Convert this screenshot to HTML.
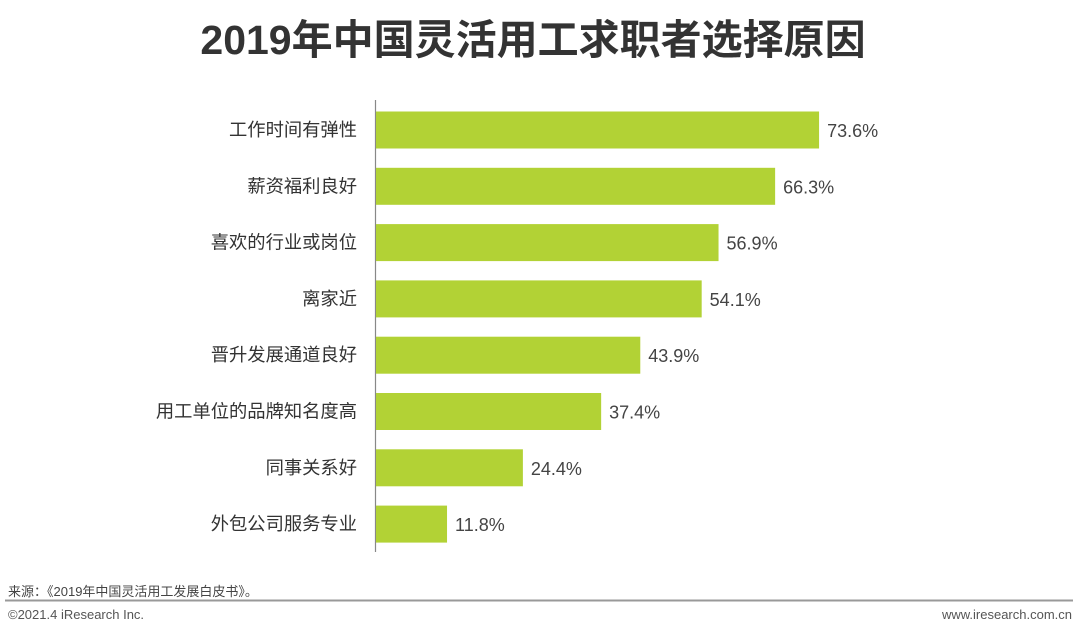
<!DOCTYPE html>
<html><head><meta charset="utf-8"><style>
body{margin:0;width:1080px;height:635px;background:#fff;overflow:hidden;font-family:"Liberation Sans","Noto Sans CJK SC",sans-serif;}
svg{position:absolute;left:0;top:0}
</style></head><body>
<svg id="c" width="1080" height="635">
<text x="533" y="54" text-anchor="middle" font-size="41" font-weight="bold" fill="#333" font-family="Liberation Sans, Noto Sans CJK SC, sans-serif">2019年中国灵活用工求职者选择原因</text>
<line x1="375.5" y1="100" x2="375.5" y2="552" stroke="#888" stroke-width="1.2"/>
<g id="bars"></g>
<text x="8" y="596" font-size="13" fill="#444">来源：《2019年中国灵活用工发展白皮书》。</text>
<line x1="5" y1="600.5" x2="1073" y2="600.5" stroke="#999" stroke-width="2"/>
<text x="8" y="619" font-size="13" fill="#555">©2021.4 iResearch Inc.</text>
<text x="1072" y="619" text-anchor="end" font-size="13" fill="#555">www.iresearch.com.cn</text>
</svg>
<script>
const categories=["工作时间有弹性","薪资福利良好","喜欢的行业或岗位","离家近","晋升发展通道良好","用工单位的品牌知名度高","同事关系好","外包公司服务专业"];
const values=[73.6,66.3,56.9,54.1,43.9,37.4,24.4,11.8];
const valueLabels=["73.6%","66.3%","56.9%","54.1%","43.9%","37.4%","24.4%","11.8%"];
const ns="http://www.w3.org/2000/svg";
const x0=376, pxPer=6.02, top0=130, step=56.3, bh=37;
const xScale=v=>x0+v*pxPer;
const yScale=i=>top0+i*step;
const g=document.getElementById('bars');
categories.forEach((c,i)=>{
  const cy=yScale(i);
  const r=document.createElementNS(ns,'rect');
  r.setAttribute('x',x0);r.setAttribute('y',cy-bh/2);
  r.setAttribute('width',xScale(values[i])-x0);r.setAttribute('height',bh);
  r.setAttribute('fill','#b2d235');
  
  
  g.appendChild(r);
  const t=document.createElementNS(ns,'text');
  t.setAttribute('x',357);t.setAttribute('y',cy+6);
  t.setAttribute('text-anchor','end');t.setAttribute('font-size','18.3');t.setAttribute('fill','#333');
  t.textContent=c;
  
  
  g.appendChild(t);
  const v=document.createElementNS(ns,'text');
  v.setAttribute('x',xScale(values[i])+8);v.setAttribute('y',cy+7);
  v.setAttribute('font-size','18');v.setAttribute('fill','#444');
  v.textContent=valueLabels[i];
  
  
  g.appendChild(v);
});
</script>
</body></html>
